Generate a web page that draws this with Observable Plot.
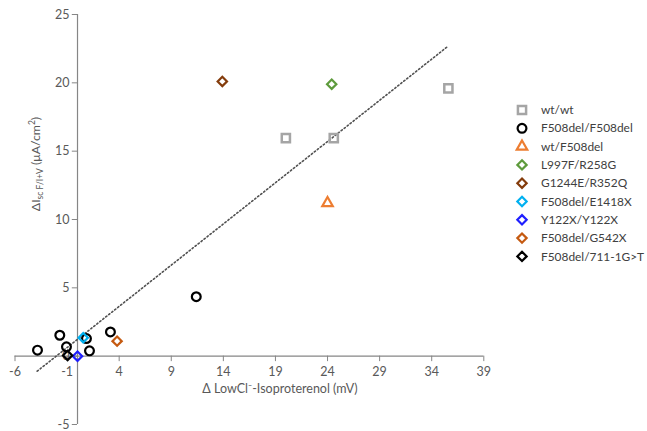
<!DOCTYPE html>
<html><head><meta charset="utf-8">
<script src="https://cdn.jsdelivr.net/npm/d3@7"></script>
<script src="https://cdn.jsdelivr.net/npm/@observablehq/plot@0.6"></script>
<style>
body{margin:0;background:#fff;font-family:Lato,"Open Sans",sans-serif}
#chart{position:relative;width:647px;height:431px}
</style>
</head><body><div id="chart"></div>
<script>
// ---- data ----
const seriesNames = ["wt/wt","F508del/F508del","wt/F508del","L997F/R258G","G1244E/R352Q","F508del/E1418X","Y122X/Y122X","F508del/G542X","F508del/711-1G>T"];
const seriesSymbols = ["square2","circle","triangle2","diamond2","diamond2","diamond2","diamond2","diamond2","diamond2"];
const seriesColors = ["#A5A5A5","#000000","#ED7D31","#5E9B3C","#843C0C","#00B0F0","#1F1FFF","#C55A11","#000000"];
const wtwtX = [20.0, 24.6, 35.6];
const wtwtY = [15.95, 15.95, 19.6];
const f508X = [-3.84, -1.7, -1.06, 0.86, 1.15, 3.16, 11.4];
const f508Y = [0.44, 1.53, 0.68, 1.29, 0.39, 1.77, 4.35];
const wtF508X = [24.0];
const wtF508Y = [11.2];
const l997X = [24.4];
const l997Y = [19.9];
const g1244X = [13.9];
const g1244Y = [20.1];
const e1418X = [0.55];
const e1418Y = [1.35];
const y122X = [0.0];
const y122Y = [0.0];
const g542X = [3.8];
const g542Y = [1.1];
const s711X = [-0.95];
const s711Y = [0.05];
const trendX = [-3.87, 35.6];
const trendY = [-1.1, 22.7];
const xTicks = [-6, -1, 4, 9, 14, 19, 24, 29, 34, 39];
const yTicks = [-5, 0, 5, 10, 15, 20, 25];

const seriesX = [wtwtX, f508X, wtF508X, l997X, g1244X, e1418X, y122X, g542X, s711X];
const seriesY = [wtwtY, f508Y, wtF508Y, l997Y, g1244Y, e1418Y, y122Y, g542Y, s711Y];
const seriesR = [5.2, 4.4, 5.0, 4.2, 4.2, 4.2, 4.2, 4.2, 4.2];
const seriesSW = [2.5, 2.2, 2.2, 2.2, 2.2, 2.2, 2.2, 2.2, 2.2];

const trend = trendX.map((x, i) => ({x, y: trendY[i]}));
const axisColor = "#868686";
const labelColor = "#595959";
const fam = "Lato, 'Open Sans', sans-serif";

const dotMarks = seriesNames.map((name, i) =>
  Plot.dot(seriesX[i].map((x, j) => ({x, y: seriesY[i][j]})), {
    x: "x", y: "y", symbol: () => seriesSymbols[i], r: seriesR[i],
    stroke: seriesColors[i], strokeWidth: seriesSW[i], fill: "none"
  })
);

const chart = Plot.plot({
  width: 647, height: 431,
  marginLeft: 14.5, marginRight: 163.7, marginTop: 14, marginBottom: 7,
  style: {fontFamily: fam, background: "#fff", fontSize: "12px"},
  x: {domain: [-6, 39], axis: null},
  y: {domain: [-5, 25], axis: null},
  marks: [
    Plot.ruleX([0], {y1: -5, y2: 25, stroke: axisColor, strokeWidth: 1.2}),
    Plot.ruleY([0], {x1: -6, x2: 39, stroke: axisColor, strokeWidth: 1.2}),
    Plot.ruleY(yTicks, {y: d => d, x1: -0.5, x2: 0, stroke: axisColor}),
    Plot.ruleX(xTicks, {x: d => d, y1: 0, y2: -0.4, stroke: axisColor}),
    Plot.text(yTicks, {x: 0, y: d => d, text: d => String(d), dx: -8, textAnchor: "end", fill: labelColor, fontSize: 12.5}),
    Plot.text(xTicks, {x: d => d, y: 0, text: d => String(d), dy: 16, fill: labelColor, fontSize: 12.5}),
    Plot.line(trend, {x: "x", y: "y", stroke: "#505050", strokeWidth: 1.6, strokeDasharray: "1.4,2.4"}),
    ...dotMarks
  ]
});
document.getElementById("chart").appendChild(chart);

// ---- axis titles and legend ----
const svg = d3.select(chart);
svg.append("text").attr("x", 280).attr("y", 393).attr("text-anchor", "middle")
  .style("font-family", fam).style("font-size", "12.5px").attr("fill", labelColor)
  .text("Δ LowCl⁻-Isoproterenol (mV)");

const yt = svg.append("text").attr("transform", "translate(40,164) rotate(-90)")
  .attr("text-anchor", "middle").style("font-family", fam).style("font-size", "12.3px").attr("fill", labelColor);
yt.append("tspan").text("ΔI");
yt.append("tspan").style("font-size", "8.5px").attr("dy", 3).text("sc F/I+V");
yt.append("tspan").attr("dy", -3).text(" (μA/cm");
yt.append("tspan").style("font-size", "8.5px").attr("dy", -5).text("2");
yt.append("tspan").attr("dy", 5).text(")");

const symMap = {square2: d3.symbolSquare2, circle: d3.symbolCircle, triangle2: d3.symbolTriangle2, diamond2: d3.symbolDiamond2};
const lg = svg.append("g");
seriesNames.forEach((name, i) => {
  const cy = 110 + i * 18.3;
  lg.append("path").attr("transform", `translate(522,${cy})`)
    .attr("d", d3.symbol(symMap[seriesSymbols[i]], Math.PI * seriesR[i] * seriesR[i])())
    .attr("fill", "none").attr("stroke", seriesColors[i]).attr("stroke-width", seriesSW[i]);
  lg.append("text").attr("x", 541).attr("y", cy).attr("dy", "0.35em").attr("text-anchor", "start")
    .style("font-family", fam).style("font-size", "11.9px").attr("fill", "#404040").text(name);
});
</script>
</body></html>
